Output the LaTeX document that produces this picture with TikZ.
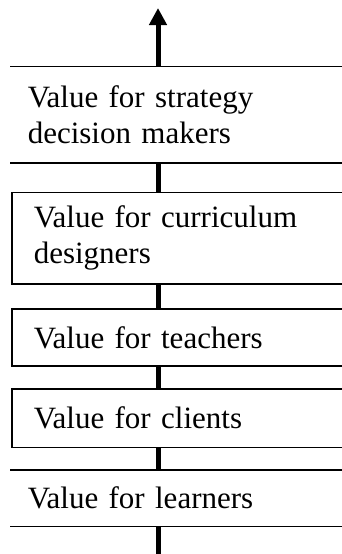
\documentclass[tikz,border=0pt]{standalone}
\usepackage{fontspec}
\setmainfont{Liberation Serif}
\usepackage{tikz}
\usetikzlibrary{arrows.meta,positioning}
\tikzset{
  valuebox/.style={rectangle, anchor=north west, inner ysep=0pt, text width=300pt,
    align=left, font=\fontsize{31}{36}\selectfont, line width=1.5pt},
  openbox/.style={valuebox, inner xsep=17pt},
  closedbox/.style={valuebox, draw, inner xsep=22pt},
  link/.style={line width=5pt},
  rule/.style={line width=1.5pt},
}

\begin{document}
\begin{tikzpicture}[x=1pt, y=-1pt]
  \useasboundingbox (0,0) rectangle (342,554);
  \clip (0,0) rectangle (342,554);
  \coordinate (spine) at (158,0);
  \coordinate (tip) at (158,8);
  \coordinate (foot) at (158,560);

  % the value chain, top to bottom
  \node[openbox, minimum height=95pt] (strategy) at (10,66.7) {Value for strategy\\ decision makers};
  \node[closedbox, minimum height=91.6pt] (curriculum) at (11,191.7) {Value for curriculum\\ designers};
  \node[closedbox, minimum height=56.7pt] (teachers) at (11,308.3) {Value for teachers};
  \node[closedbox, minimum height=58.4pt] (clients) at (11,388.3) {Value for clients};
  \node[openbox, minimum height=55pt] (learners) at (10,470) {Value for learners};

  \draw[rule] (strategy.north west) -- (strategy.north east)
              (strategy.south west) -- (strategy.south east);
  \draw[rule] (learners.north west) -- (learners.north east)
              (learners.south west) -- (learners.south east);

  % spine
  \draw[link, -{Triangle[width=17pt, length=17pt]}] (strategy.north -| spine) -- (tip);
  \draw[link] (strategy.south -| spine) -- (curriculum.north -| spine);
  \draw[link] (curriculum.south -| spine) -- (teachers.north -| spine);
  \draw[link] (teachers.south -| spine) -- (clients.north -| spine);
  \draw[link] (clients.south -| spine) -- (learners.north -| spine);
  \draw[link] (learners.south -| spine) -- (foot);
\end{tikzpicture}
\end{document}
